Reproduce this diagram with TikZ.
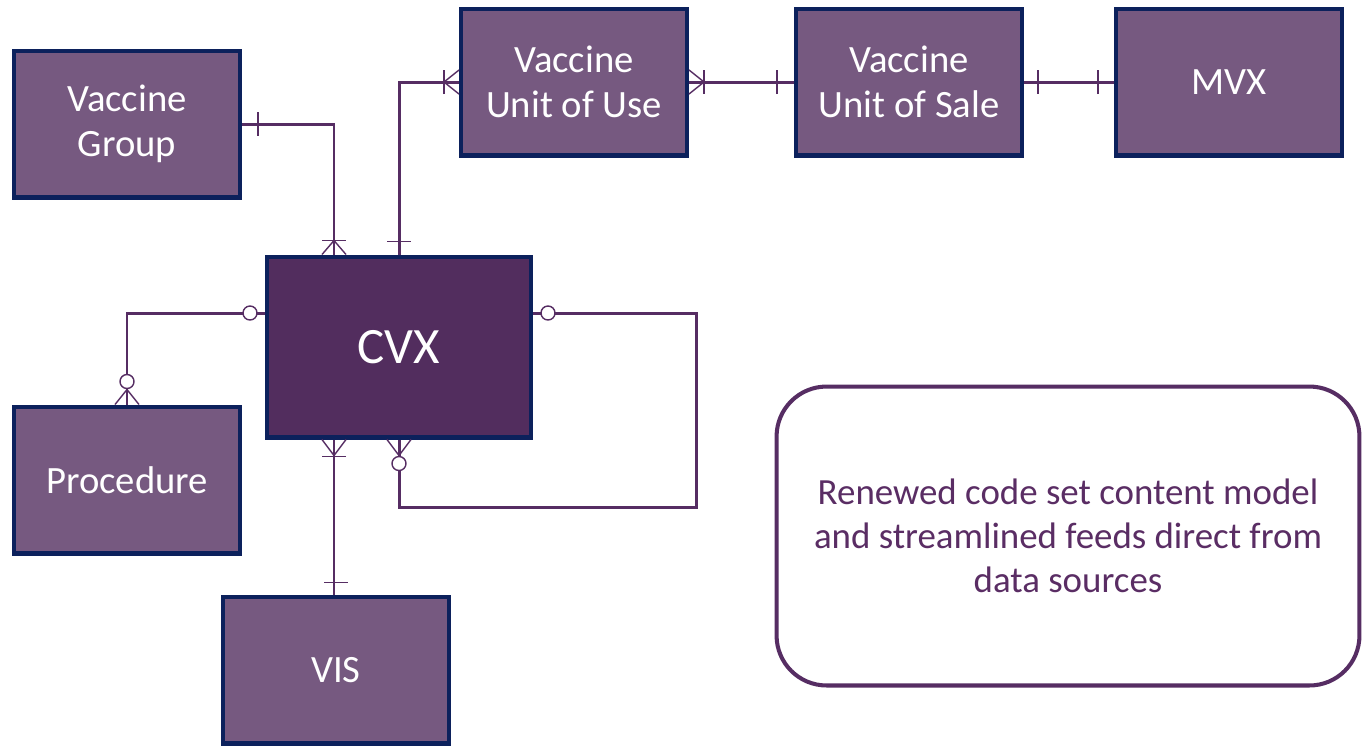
\documentclass[tikz,border=0pt]{standalone}
\usepackage{fontspec}
\setmainfont{Carlito}
\usetikzlibrary{calc}
\definecolor{boxfill}{RGB}{118,89,128}
\definecolor{cvxfill}{RGB}{82,45,94}
\definecolor{navyline}{RGB}{12,33,92}
\definecolor{linkpurple}{RGB}{86,45,99}
\definecolor{notepurple}{RGB}{90,45,100}
\tikzset{
  entity/.style={draw=navyline, fill=boxfill, line width=2.3pt,
    minimum width=4.52cm, minimum height=2.94cm, text=white, align=center,
    font=\fontsize{22}{25.6}\selectfont},
  link/.style={draw=linkpurple, line width=1.7pt},
  tick/.style={draw=linkpurple, line width=0.8pt},
  pics/bar/.style={code={\draw[tick] (#1,-12) -- (#1,12);}},
  pics/crow/.style={code={\draw[tick] (0,-12) -- (#1,0) -- (0,12);}},
  pics/ring/.style={code={\draw[tick, fill=white] (#1,0) circle (7);}},
}
\begin{document}
\begin{tikzpicture}[x=0.02cm, y=-0.02cm]
  \useasboundingbox (0,0) rectangle (1364,745);
  % entities
  \node[entity] (group) at (127,124) {Vaccine\\Group};
  \node[entity] (useunit) at (574,82) {Vaccine\\Unit of Use};
  \node[entity] (saleunit) at (909,82) {Vaccine\\Unit of Sale};
  \node[entity] (mvx) at (1229,82) {MVX};
  \node[entity, fill=cvxfill, minimum width=5.28cm, minimum height=3.62cm,
    font=\fontsize{29}{34}\selectfont] (cvx) at (399,347) {CVX};
  \node[entity] (proc) at (127,480) {Procedure};
  \node[entity] (vis) at (336,670) {VIS};
  \node[draw=linkpurple, line width=2.3pt, rounded corners=1cm, fill=white,
    minimum width=11.66cm, minimum height=5.98cm, text=notepurple, align=center,
    font=\fontsize{21}{25}\selectfont] (note) at (1068,536)
    {Renewed code set content model\\and streamlined feeds direct from\\data sources};
  % relationships
  \draw[link] (group.east) -| ($(cvx.north)+(-65,0)$) coordinate (cvx-n1);
  \draw[link] (cvx.north) |- (useunit.west);
  \draw[link] (useunit.east) -- (saleunit.west);
  \draw[link] (saleunit.east) -- (mvx.west);
  \draw[link] ($(cvx.west)+(0,-34)$) coordinate (cvx-w) -| (proc.north);
  \draw[link] ($(cvx.south)+(-65,0)$) coordinate (cvx-s1) -- (cvx-s1 |- vis.north);
  \draw[link] ($(cvx.east)+(0,-34)$) coordinate (cvx-e) -- ++(163,0)
    |- ($(cvx.south)+(0,68)$) -- (cvx.south);
  % cardinality marks
  \path (group.east) pic {bar=16};
  \path (cvx-n1) pic[rotate=90] {crow=14} pic[rotate=90] {bar=14};
  \path (cvx.north) pic[rotate=90] {bar=13};
  \path (useunit.west) pic[rotate=180] {crow=15} pic[rotate=180] {bar=15};
  \path (useunit.east) pic {crow=15} pic {bar=15};
  \path (saleunit.west) pic[rotate=180] {bar=17};
  \path (saleunit.east) pic {bar=14};
  \path (mvx.west) pic[rotate=180] {bar=16};
  \path (cvx-w) pic[rotate=180] {ring=15};
  \path (proc.north) pic[rotate=90] {crow=15} pic[rotate=90] {ring=23};
  \path (cvx-s1) pic[rotate=-90] {crow=16} pic[rotate=-90] {bar=17};
  \path (vis.north) pic[rotate=90] {bar=12};
  \path (cvx-e) pic {ring=15};
  \path (cvx.south) pic[rotate=-90] {crow=16} pic[rotate=-90] {ring=24};
\end{tikzpicture}
\end{document}
